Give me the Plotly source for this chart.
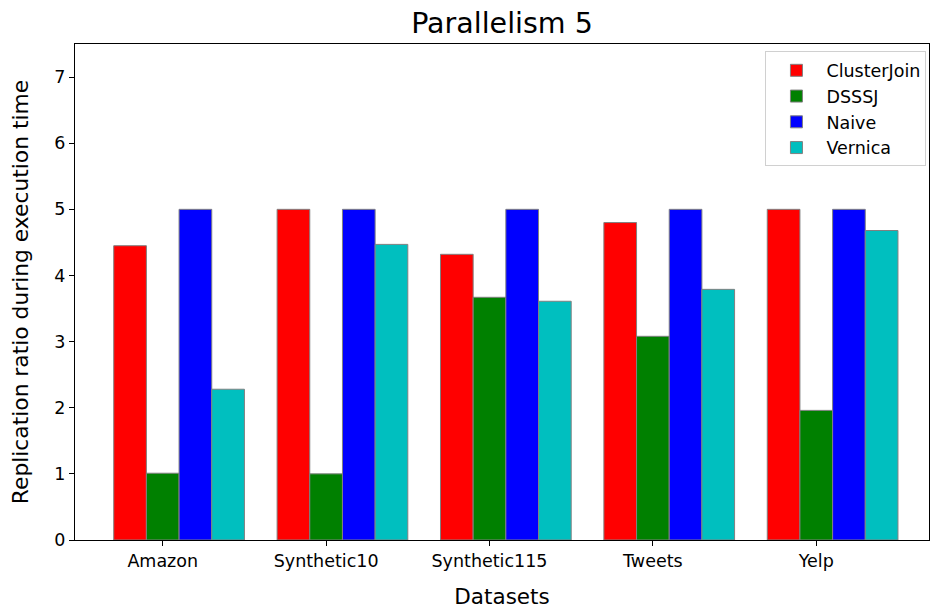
import plotly.graph_objects as go

datasets = ["Amazon", "Synthetic10", "Synthetic115", "Tweets", "Yelp"]
clusterjoin = [4.45, 5.0, 4.32, 4.80, 5.0]
dsssj = [1.01, 1.0, 3.67, 3.08, 1.96]
naive = [5.0, 5.0, 5.0, 5.0, 5.0]
vernica = [2.28, 4.47, 3.61, 3.79, 4.68]

series = [
    ("ClusterJoin", clusterjoin, "#ff0000", -0.2),
    ("DSSSJ", dsssj, "#008000", 0.0),
    ("Naive", naive, "#0000ff", 0.2),
    ("Vernica", vernica, "#00bfbf", 0.4),
]

font_family = "DejaVu Sans"
fig = go.Figure()
idx = list(range(len(datasets)))
for name, vals, color, off in series:
    fig.add_trace(go.Bar(
        x=[i + off for i in idx], y=vals, name=name, width=0.2,
        marker=dict(color=color, line=dict(color="#808080", width=1)),
    ))

fig.update_layout(
    width=930, height=609,
    margin=dict(l=75, r=1, t=44, b=69),
    plot_bgcolor="white", paper_bgcolor="white",
    font=dict(family=font_family, color="black", size=17),
    title=dict(text="Parallelism 5", x=(75 + 929) / 2 / 930, xanchor="center",
               y=1 - 23 / 609, yanchor="middle", yref="container",
               font=dict(size=28.5, family=font_family)),
    barmode="overlay",
    showlegend=True,
    legend=dict(x=0.997, y=0.985, xanchor="right", yanchor="top",
                bgcolor="white", bordercolor="#d0d0d0", borderwidth=1,
                font=dict(size=17.5, family=font_family), itemwidth=50),
    xaxis=dict(range=[-0.537, 4.69], tickmode="array", tickvals=idx, ticktext=datasets,
               showgrid=False, zeroline=False, showline=True, linecolor="black", linewidth=1.2,
               mirror=True, ticks="outside", ticklen=5, tickcolor="black",
               tickfont=dict(size=17.5),
               title=dict(text="Datasets", font=dict(size=21.5), standoff=19)),
    yaxis=dict(range=[0, 7.5], tickmode="array", tickvals=[0, 1, 2, 3, 4, 5, 6, 7],
               showgrid=False, zeroline=False, showline=True, linecolor="black", linewidth=1.2,
               mirror=True, ticks="outside", ticklen=5, tickcolor="black",
               tickfont=dict(size=17.5),
               title=dict(text="Replication ratio during execution time", font=dict(size=21.8), standoff=19)),
)

fig.write_html("out.html")
